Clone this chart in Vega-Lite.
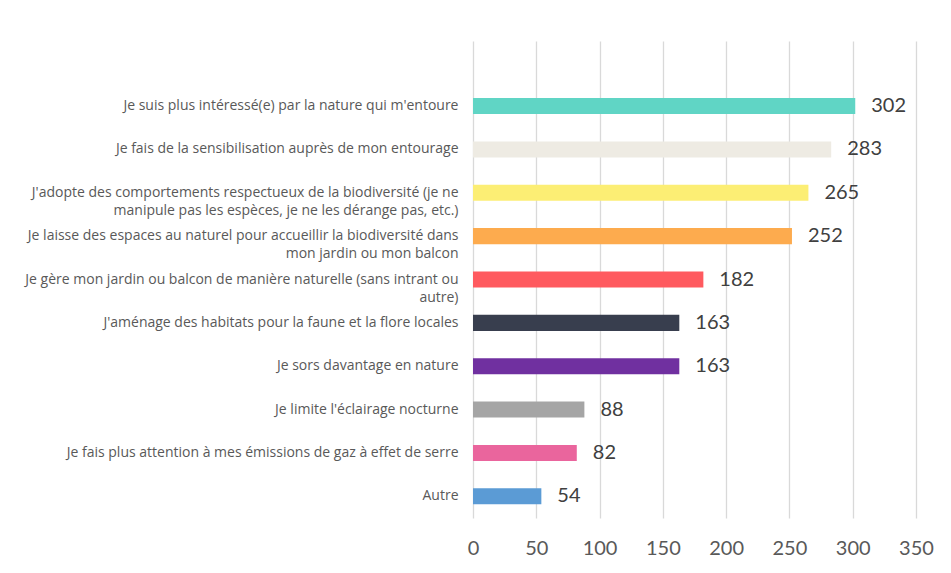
{
  "$schema": "https://vega.github.io/schema/vega-lite/v6.json",
  "autosize": "none",
  "width": 443,
  "height": 477,
  "padding": {"left": 473, "top": 41, "right": 35, "bottom": 55},
  "background": "white",
  "data": {
    "values": [
      {"action": "Je suis plus intéressé(e) par la nature qui m'entoure", "count": 302, "color": "#60D5C5"},
      {"action": "Je fais de la sensibilisation auprès de mon entourage", "count": 283, "color": "#EEEBE3"},
      {"action": "J'adopte des comportements respectueux de la biodiversité (je ne\nmanipule pas les espèces, je ne les dérange pas, etc.)", "count": 265, "color": "#FCEE74"},
      {"action": "Je laisse des espaces au naturel pour accueillir la biodiversité dans\nmon jardin ou mon balcon", "count": 252, "color": "#FDAB4E"},
      {"action": "Je gère mon jardin ou balcon de manière naturelle (sans intrant ou\nautre)", "count": 182, "color": "#FF5A5F"},
      {"action": "J'aménage des habitats pour la faune et la flore locales", "count": 163, "color": "#383E4E"},
      {"action": "Je sors davantage en nature", "count": 163, "color": "#7030A0"},
      {"action": "Je limite l'éclairage nocturne", "count": 88, "color": "#A5A5A5"},
      {"action": "Je fais plus attention à mes émissions de gaz à effet de serre", "count": 82, "color": "#EA659D"},
      {"action": "Autre", "count": 54, "color": "#5B9BD5"}
    ]
  },
  "encoding": {
    "y": {
      "field": "action",
      "type": "nominal",
      "title": null,
      "scale": {
        "domain": [
          " ",
          "Je suis plus intéressé(e) par la nature qui m'entoure",
          "Je fais de la sensibilisation auprès de mon entourage",
          "J'adopte des comportements respectueux de la biodiversité (je ne\nmanipule pas les espèces, je ne les dérange pas, etc.)",
          "Je laisse des espaces au naturel pour accueillir la biodiversité dans\nmon jardin ou mon balcon",
          "Je gère mon jardin ou balcon de manière naturelle (sans intrant ou\nautre)",
          "J'aménage des habitats pour la faune et la flore locales",
          "Je sors davantage en nature",
          "Je limite l'éclairage nocturne",
          "Je fais plus attention à mes émissions de gaz à effet de serre",
          "Autre"
        ],
        "paddingInner": 0.63,
        "paddingOuter": 0.315
      },
      "axis": {
        "domain": false,
        "ticks": false,
        "grid": false,
        "labelExpr": "split(datum.value, '\\n')",
        "labelFont": "Open Sans",
        "labelFontSize": 14,
        "labelColor": "#595959",
        "labelLineHeight": 18,
        "labelPadding": 15,
        "labelLimit": 500
      }
    },
    "x": {
      "field": "count",
      "type": "quantitative",
      "title": null,
      "scale": {"domain": [0, 350], "nice": false},
      "axis": {
        "values": [0, 50, 100, 150, 200, 250, 300, 350],
        "domain": false,
        "ticks": false,
        "grid": true,
        "gridColor": "#D9D9D9",
        "gridWidth": 1.3,
        "labelFlush": false,
        "labelOverlap": false,
        "labelFont": "Lato",
        "labelFontSize": 20,
        "labelColor": "#595959",
        "labelPadding": 20
      }
    }
  },
  "layer": [
    {
      "mark": {"type": "bar"},
      "encoding": {
        "color": {"field": "color", "type": "nominal", "scale": null, "legend": null}
      }
    },
    {
      "mark": {"type": "text", "align": "left", "baseline": "middle", "dx": 16, "font": "Lato", "fontSize": 20, "color": "#404040"},
      "encoding": {
        "text": {"field": "count", "type": "quantitative"}
      }
    }
  ],
  "config": {"view": {"stroke": null}}
}
